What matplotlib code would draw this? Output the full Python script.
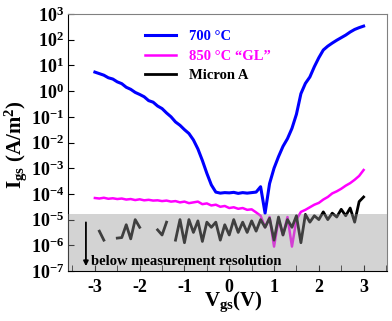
import numpy as np
import matplotlib
matplotlib.use('Agg')
import matplotlib.pyplot as plt
from matplotlib.ticker import FixedLocator, FixedFormatter, MultipleLocator

plt.rcParams['font.family'] = 'Liberation Serif'
plt.rcParams['font.weight'] = 'bold'
plt.rcParams['mathtext.fontset'] = 'custom'
plt.rcParams['mathtext.rm'] = 'Liberation Serif:bold'
plt.rcParams['mathtext.it'] = 'Liberation Serif:bold'
plt.rcParams['mathtext.bf'] = 'Liberation Serif:bold'

# gate voltage sweep (V)
vgs = [-3.0, -2.9, -2.8, -2.7, -2.6, -2.5, -2.4, -2.3, -2.2, -2.1,
       -2.0, -1.9, -1.8, -1.7, -1.6, -1.5, -1.4, -1.3, -1.2, -1.1,
       -1.0, -0.9, -0.8, -0.7, -0.6, -0.5, -0.4, -0.3, -0.2, -0.1,
       0.0, 0.1, 0.2, 0.3, 0.4, 0.5, 0.6, 0.7, 0.8, 0.9,
       1.0, 1.1, 1.2, 1.3, 1.4, 1.5, 1.6, 1.7, 1.8, 1.9,
       2.0, 2.1, 2.2, 2.3, 2.4, 2.5, 2.6, 2.7, 2.8, 2.9, 3.0]

# log10 of Igs (A/m^2)
log_700 = [0.74, 0.68, 0.62, 0.52, 0.47, 0.36, 0.29, 0.15, 0.07, -0.05,
           -0.13, -0.22, -0.37, -0.43, -0.58, -0.68, -0.85, -1.00, -1.20, -1.33,
           -1.50, -1.65, -1.90, -2.25, -2.70, -3.20, -3.65, -3.93, -3.97, -3.95,
           -3.96, -3.94, -3.98, -3.95, -3.97, -3.95, -3.93, -3.72, -4.75, -3.60,
           -3.00, -2.55, -2.15, -1.85, -1.45, -0.90, -0.10, 0.30, 0.55, 0.95,
           1.30, 1.60, 1.75, 1.87, 1.98, 2.08, 2.18, 2.30, 2.40, 2.47, 2.53]

log_850 = [-4.16, -4.18, -4.15, -4.19, -4.17, -4.20, -4.18, -4.22, -4.20, -4.24,
           -4.21, -4.25, -4.23, -4.26, -4.25, -4.28, -4.26, -4.30, -4.28, -4.33,
           -4.30, -4.36, -4.33, -4.30, -4.40, -4.37, -4.45, -4.42, -4.50, -4.47,
           -4.55, -4.52, -4.58, -4.55, -4.62, -4.60, -4.72, -4.85, -5.30, -4.90,
           -6.05, -5.00, -5.60, -4.90, -6.05, -5.00, -4.70, -4.62, -4.52, -4.42,
           -4.35, -4.22, -4.12, -3.98, -3.90, -3.80, -3.68, -3.58, -3.45, -3.30, -3.07]

nan = np.nan
log_micron = [nan, -5.45, -5.80, nan, nan, -5.72, -5.70, -5.20, -5.75, -5.00,
              -5.30, nan, -4.90, nan, -5.40, -5.60, -5.10, nan, -5.80, -5.00,
              -5.90, -5.00, -5.50, -5.05, -5.85, -5.10, -5.30, -5.10, -5.80, -5.20,
              -5.60, -5.00, -5.50, -5.10, -5.50, -5.05, -5.45, -5.00, -5.30, -4.95,
              -5.80, -4.90, -5.60, -5.00, -5.30, -4.85, -5.90, -4.80, -5.10, -4.85,
              -5.00, -4.70, -5.00, -4.75, -4.90, -4.60, -4.85, -4.55, -5.10, -4.30, -4.12]

resolution = 1.6e-5

fig = plt.figure(figsize=(3.92, 3.21), dpi=100)
ax = fig.add_axes([0.1735, 0.1558, 0.8135, 0.8005])

ax.plot(vgs, 10 ** np.array(log_700), color='#0000ff', lw=2.2, label='700 \u00b0C')
ax.plot(vgs, 10 ** np.array(log_850), color='#ff00ff', lw=1.8, label='850 \u00b0C \u201cGL\u201d')
ax.plot(vgs, 10 ** np.array(log_micron), color='black', lw=2.0, label='Micron A')

ax.set_yscale('log')
ax.set_ylim(1e-7, 1e3)
ax.set_xlim(-3.6, 3.52)

# grey band for below-resolution region drawn over the data
ax.axhspan(1e-7, resolution, color='#989898', alpha=0.42, lw=0, zorder=5)

ax.annotate('', xy=(-3.2, 1.2e-7), xytext=(-3.2, 1e-5),
            arrowprops=dict(arrowstyle='-|>', color='black', lw=1.3, mutation_scale=7),
            zorder=6)
ax.text(-3.08, 1.3e-7, 'below measurement resolution', fontsize=10.5,
        fontweight='bold', va='bottom', ha='left', zorder=6)

yt = [1e-7, 1e-6, 1e-5, 1e-4, 1e-3, 1e-2, 1e-1, 1e0, 1e1, 1e2, 1e3]
ylabels = [r'$\mathbf{10^{%d}}$' % e for e in range(-7, 4)]
ax.yaxis.set_major_locator(FixedLocator(yt))
ax.yaxis.set_major_formatter(FixedFormatter(ylabels))
ax.set_xticks([-3, -2, -1, 0, 1, 2, 3])
ax.set_xticklabels(['-3', '-2', '-1', '0', '1', '2', '3'])
ax.xaxis.set_minor_locator(MultipleLocator(0.5))
ax.tick_params(axis='both', which='both', direction='in', top=False, right=False)
ax.tick_params(axis='y', which='major', labelsize=13, length=4, pad=3)
ax.tick_params(axis='y', which='minor', length=2)
ax.tick_params(axis='x', which='both', labelsize=13, length=4, pad=6)

for s in ['top', 'right']:
    ax.spines[s].set_color('#808080')

leg = ax.legend(loc='upper left', bbox_to_anchor=(0.2, 0.99), frameon=False,
                handlelength=2.1, handletextpad=0.9, labelspacing=0.45,
                prop={'family': 'Liberation Serif', 'weight': 'bold', 'size': 10.5},
                labelcolor='linecolor')

fig.text(0.04, 0.55, r'$\mathbf{I_{gs}\ (A/m^{2})}$', rotation=90,
         fontsize=15, ha='center', va='center')
fig.text(0.595, 0.06, r'$\mathbf{V_{gs}(V)}$', fontsize=15, ha='center', va='center')

fig.savefig('out.png', dpi=100)
